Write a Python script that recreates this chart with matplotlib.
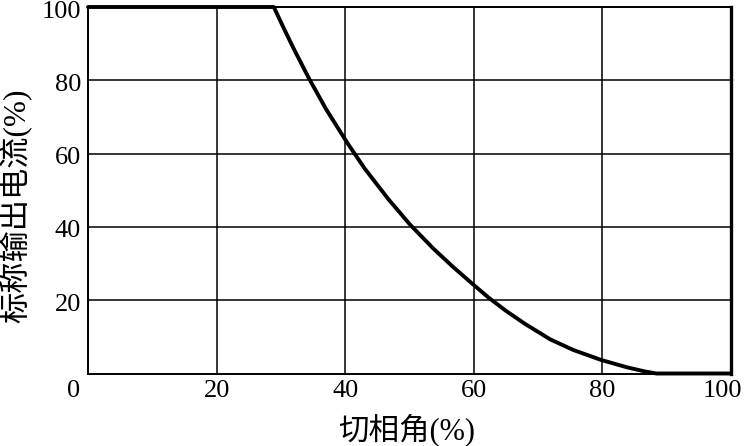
import matplotlib
matplotlib.use("Agg")
import matplotlib.pyplot as plt
from matplotlib.transforms import ScaledTranslation

plt.rcParams['font.family'] = ['Liberation Serif', 'Noto Sans CJK SC']

# Data
angle = [0, 28.9, 30.5, 32.0, 34.4, 37.0, 40.3, 43.0, 46.7, 50.1, 53.7, 56.7,
         59.7, 62.3, 65.0, 68.0, 71.9, 75.5, 79.8, 83.8, 86.5, 88.4, 100]
current = [100, 100, 94.0, 88.6, 80.4, 72.2, 63.0, 56.0, 47.6, 40.6, 34.1, 29.2,
           24.6, 20.7, 17.1, 13.5, 9.3, 6.4, 3.7, 1.7, 0.6, 0, 0]
xticks = [0, 20, 40, 60, 80, 100]
yticks = [20, 40, 60, 80, 100]
xlabel = "切相角(%)"
ylabel = "标称输出电流(%)"

fig = plt.figure(figsize=(7.44, 4.46), dpi=100)
ax = fig.add_axes([88/744, 1 - 373.5/446, (731-88)/744, (373.5-7)/446])

ax.plot(angle, current, color='black', lw=2.8, solid_joinstyle='round',
        solid_capstyle='round', zorder=3, clip_on=False)

ax.set_xlim(0, 100)
ax.set_ylim(0, 100)
ax.set_xticks(xticks)
ax.set_yticks(yticks)
ax.grid(True, color='black', lw=1.1)
ax.tick_params(length=0, labelsize=19, pad=5)
for s in ax.spines.values():
    s.set_linewidth(1.4)
ax.spines['right'].set_linewidth(2.4)

# nudge the end labels like the reference
xl = ax.get_xticklabels()
xl[0].set_transform(xl[0].get_transform() + ScaledTranslation(-0.14, 0, fig.dpi_scale_trans))
xl[-1].set_transform(xl[-1].get_transform() + ScaledTranslation(-0.09, 0, fig.dpi_scale_trans))
for lab in ax.get_yticklabels():
    lab.set_transform(lab.get_transform() + ScaledTranslation(0, -0.02, fig.dpi_scale_trans))

fig.text(407/744, 1 - 430/446, xlabel, fontsize=22, ha='center', va='center')
fig.text(16/744, 1 - 206/446, ylabel, fontsize=22.5, ha='center', va='center', rotation=90)

fig.savefig("out.png", dpi=100)
